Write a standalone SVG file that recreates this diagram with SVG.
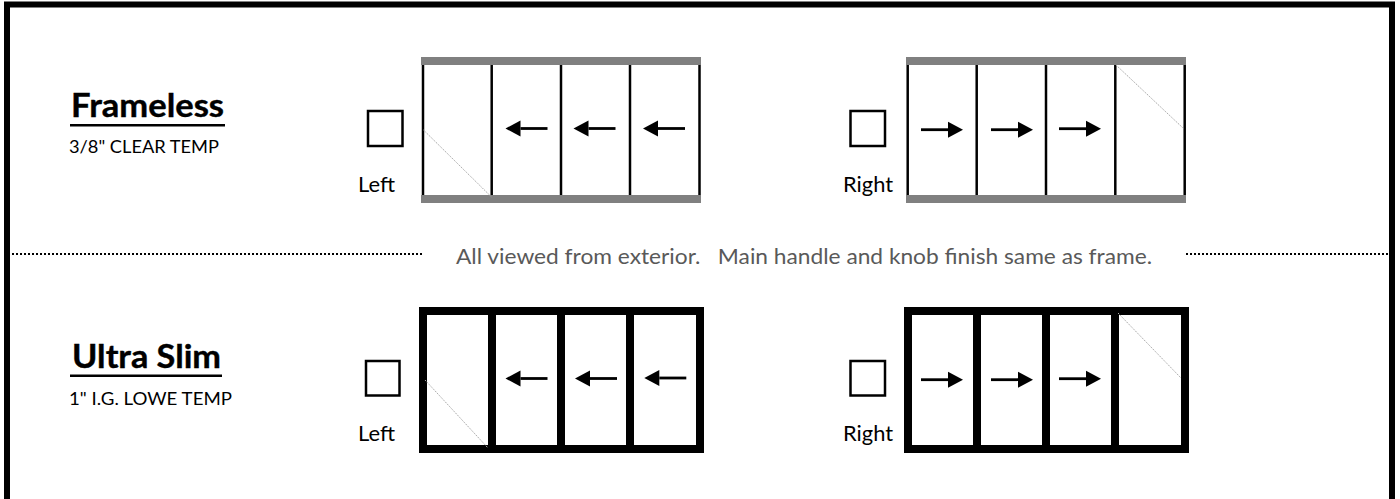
<svg xmlns="http://www.w3.org/2000/svg" width="1400" height="499" viewBox="0 0 1400 499">
<style>
text{font-family:"Lato","Open Sans","Liberation Sans",sans-serif;fill:#000}
.h{font-size:31.500px;font-weight:700;stroke:#000;stroke-width:.4px}
.s{font-size:17.500px}
.l{font-size:21px}
.n{font-size:22px;fill:#595959}
.box{fill:#fff;stroke:#000;stroke-width:2.500px}
.rail{fill:#808080}
.mul{stroke:#000;stroke-width:2.500px}
.fr{fill:none;stroke:#000;stroke-width:8px}
.diag{stroke:#aaa;stroke-width:1px;stroke-dasharray:1.500 1}
.arr{stroke:#000;stroke-width:2.800px}
.head{fill:#000}
.dots{stroke:#000;stroke-width:2px;stroke-dasharray:2 2}
</style>
<defs>
<g id="al"><line class="arr" x1="0" y1="0" x2="-27" y2="0"/><polygon class="head" points="-42,0 -27,-8 -27,8"/></g>
<g id="ar"><line class="arr" x1="0" y1="0" x2="27" y2="0"/><polygon class="head" points="42,0 27,-8 27,8"/></g>
</defs>
<rect width="1400" height="499" fill="#fff"/>
<path id="border" d="M7 499V4.500H1392V499" fill="none" stroke="#000" stroke-width="6"/>
<g id="frameless-title"><text class="h" x="71" y="117" textLength="153" lengthAdjust="spacingAndGlyphs">Frameless</text><rect x="70" y="124" width="155" height="2.500"/><text class="s" x="69" y="153" textLength="150" lengthAdjust="spacingAndGlyphs">3/8" CLEAR TEMP</text></g>
<g id="ultraslim-title"><text class="h" x="72" y="368" textLength="149" lengthAdjust="spacingAndGlyphs">Ultra Slim</text><rect x="70" y="374.500" width="152" height="2.500"/><text class="s" x="69" y="405" textLength="163" lengthAdjust="spacingAndGlyphs">1" I.G. LOWE TEMP</text></g>
<g id="dividers"><line class="dots" x1="12" y1="254" x2="422" y2="254"/><line class="dots" x1="1186" y1="254" x2="1389" y2="254"/></g>
<g id="note"><text class="n" x="456" y="264" textLength="696" lengthAdjust="spacingAndGlyphs" xml:space="preserve">All viewed from exterior.   Main handle and knob finish same as frame.</text></g>
<g id="frameless-left">
<rect class="box" x="368" y="111" width="34.500" height="35"/><text class="l" x="358" y="192" textLength="37" lengthAdjust="spacingAndGlyphs">Left</text>
<rect class="rail" x="421" y="57" width="280" height="8"/><rect class="rail" x="421" y="195" width="280" height="8"/>
<line class="mul" x1="423" y1="65" x2="423" y2="195"/><line class="mul" x1="491.700" y1="65" x2="491.700" y2="195"/><line class="mul" x1="561" y1="65" x2="561" y2="195"/><line class="mul" x1="630" y1="65" x2="630" y2="195"/><line class="mul" x1="699.500" y1="65" x2="699.500" y2="195"/>
<line class="diag" x1="423.500" y1="130" x2="491.500" y2="197"/>
<use href="#al" x="547.500" y="128.500"/><use href="#al" x="615.500" y="128.500"/><use href="#al" x="685" y="128.500"/>
</g>
<g id="frameless-right">
<rect class="box" x="850.500" y="111" width="34.500" height="35"/><text class="l" x="843" y="192" textLength="50" lengthAdjust="spacingAndGlyphs">Right</text>
<rect class="rail" x="906" y="57" width="280" height="8"/><rect class="rail" x="906" y="195" width="280" height="8"/>
<line class="mul" x1="907.700" y1="65" x2="907.700" y2="195"/><line class="mul" x1="976.700" y1="65" x2="976.700" y2="195"/><line class="mul" x1="1046" y1="65" x2="1046" y2="195"/><line class="mul" x1="1115.300" y1="65" x2="1115.300" y2="195"/><line class="mul" x1="1184.700" y1="65" x2="1184.700" y2="195"/>
<line class="diag" x1="1116" y1="65" x2="1183.500" y2="128.500"/>
<use href="#ar" x="921" y="129.700"/><use href="#ar" x="991" y="129.700"/><use href="#ar" x="1059" y="128.700"/>
</g>
<g id="ultraslim-left">
<rect class="box" x="366" y="361" width="33.500" height="34.500"/><text class="l" x="358" y="441" textLength="37" lengthAdjust="spacingAndGlyphs">Left</text>
<rect class="fr" x="423" y="311" width="277" height="138"/>
<line class="fr" x1="492" y1="311" x2="492" y2="449"/><line class="fr" x1="561" y1="311" x2="561" y2="449"/><line class="fr" x1="630" y1="311" x2="630" y2="449"/>
<line class="diag" x1="425" y1="380" x2="488" y2="448"/>
<use href="#al" x="547.500" y="378.500"/><use href="#al" x="617" y="378.500"/><use href="#al" x="686.300" y="378"/>
</g>
<g id="ultraslim-right">
<rect class="box" x="850.500" y="361" width="34.500" height="34.500"/><text class="l" x="843" y="441" textLength="50" lengthAdjust="spacingAndGlyphs">Right</text>
<rect class="fr" x="908" y="311" width="277" height="138"/>
<line class="fr" x1="977" y1="311" x2="977" y2="449"/><line class="fr" x1="1046" y1="311" x2="1046" y2="449"/><line class="fr" x1="1115" y1="311" x2="1115" y2="449"/>
<line class="diag" x1="1118" y1="313" x2="1181" y2="378"/>
<use href="#ar" x="921" y="379.700"/><use href="#ar" x="991" y="379.700"/><use href="#ar" x="1059" y="378.700"/>
</g>
</svg>
